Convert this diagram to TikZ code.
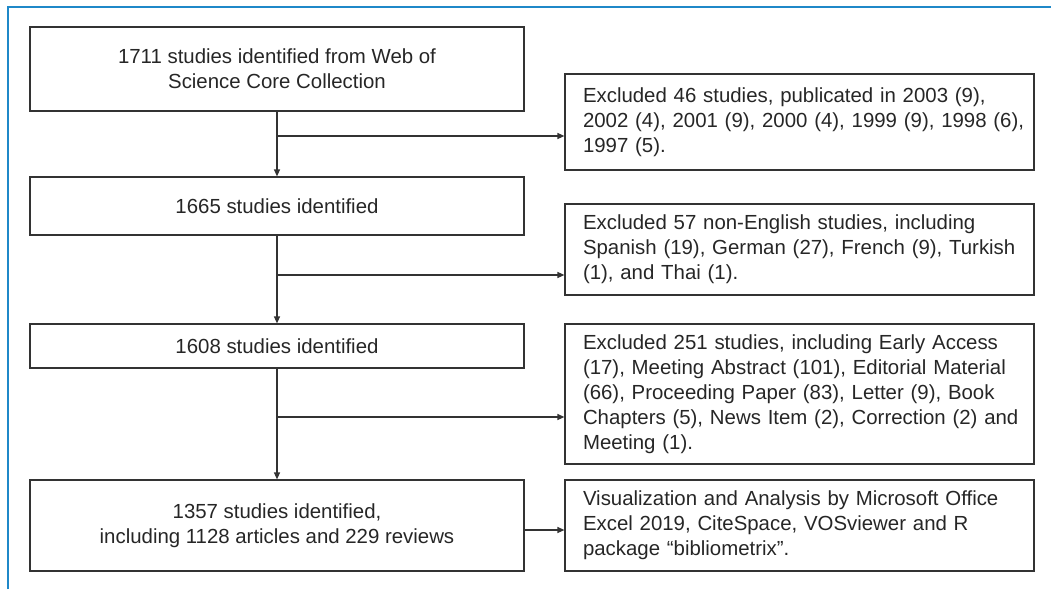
\documentclass[tikz,border=0pt]{standalone}
\usepackage{fontspec}
\setmainfont{Liberation Sans}
\usetikzlibrary{arrows.meta}
\definecolor{frameblue}{HTML}{1F88C8}
\definecolor{linegray}{HTML}{333333}
\tikzset{
  mainbox/.style={draw=linegray, line width=1.2pt, rectangle, minimum width=494pt, align=center, inner sep=0pt,
    font=\fontsize{20.4pt}{25pt}\selectfont, text=black!85},
  sidebox/.style={draw=linegray, line width=1.2pt, rectangle, text width=433pt, inner xsep=18pt, inner ysep=0pt, align=left,
    font=\fontsize{20.4pt}{25pt}\selectfont, text=black!85},
  flow/.style={draw=linegray, line width=1.2pt, -{Triangle[length=7pt,width=6pt]}},
  plain/.style={draw=linegray, line width=1.2pt}
}
\begin{document}
\begin{tikzpicture}[x=1pt,y=-1pt]
\useasboundingbox (0,0) rectangle (1051,589);
\draw[frameblue, line width=2.2pt] (8,589) -- (8,7) -- (1051,7);

\node[mainbox, minimum height=84pt] (b1) at (277,69) {1711 studies identified from Web of\\Science Core Collection};
\node[mainbox, minimum height=58pt] (b2) at (277,206) {1665 studies identified};
\node[mainbox, minimum height=44pt] (b3) at (277,346) {1608 studies identified};
\node[mainbox, minimum height=91pt] (b4) at (277,525.5) {1357 studies identified,\\including 1128 articles and 229 reviews};

\node[sidebox, minimum height=96pt] (r1) at (799.5,122) {\mbox{Excluded 46 studies, publicated in 2003 (9),}\\\mbox{2002 (4), 2001 (9), 2000 (4), 1999 (9), 1998 (6),}\\\mbox{1997 (5).}};
\node[sidebox, minimum height=91pt] (r2) at (799.5,249.5) {\mbox{Excluded 57 non-English studies, including}\\\mbox{Spanish (19), German (27), French (9), Turkish}\\\mbox{(1), and Thai (1).}};
\node[sidebox, minimum height=140pt] (r3) at (799.5,394) {\mbox{Excluded 251 studies, including Early Access}\\\mbox{(17), Meeting Abstract (101), Editorial Material}\\\mbox{(66), Proceeding Paper (83), Letter (9), Book}\\\mbox{Chapters (5), News Item (2), Correction (2) and}\\\mbox{Meeting (1).}};
\node[sidebox, minimum height=91pt] (r4) at (799.5,525.5) {\mbox{Visualization and Analysis by Microsoft Office}\\\mbox{Excel 2019, CiteSpace, VOSviewer and R}\\\mbox{package “bibliometrix”.}};

\coordinate (j1) at (277,136);
\coordinate (j2) at (277,275);
\coordinate (j3) at (277,417);
\coordinate (j4) at (524,530);

\draw[flow] (b1.south) -- (b2.north);
\draw[flow] (b2.south) -- (b3.north);
\draw[flow] (b3.south) -- (b4.north);
\draw[flow] (j1) -- (j1 -| r1.west);
\draw[flow] (j2) -- (j2 -| r2.west);
\draw[flow] (j3) -- (j3 -| r3.west);
\draw[flow] (j4) -- (j4 -| r4.west);
\end{tikzpicture}
\end{document}
